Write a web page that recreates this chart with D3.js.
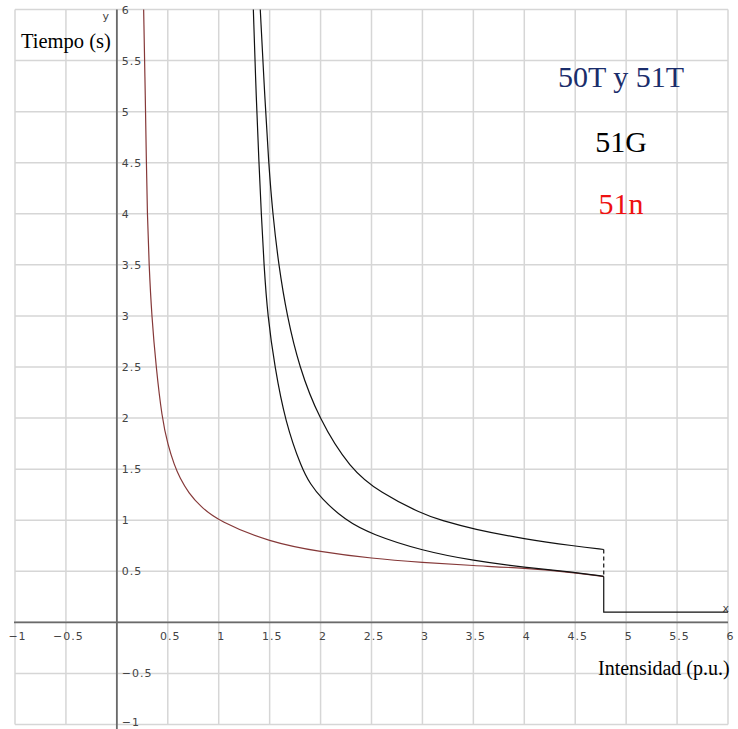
<!DOCTYPE html>
<html>
<head>
<meta charset="utf-8">
<script src="https://cdn.jsdelivr.net/npm/d3@7"></script>
<style>
html,body{margin:0;padding:0;background:#fff;}
svg{display:block;}
</style>
</head>
<body>
<svg id="chart" width="738" height="729"></svg>
<script>
// ---- data ----
const xTicks = [-1, -0.5, 0.5, 1, 1.5, 2, 2.5, 3, 3.5, 4, 4.5, 5, 5.5, 6];
const yTicks = [-1, -0.5, 0.5, 1, 1.5, 2, 2.5, 3, 3.5, 4, 4.5, 5, 5.5, 6];
const gridValues = [-1, -0.5, 0, 0.5, 1, 1.5, 2, 2.5, 3, 3.5, 4, 4.5, 5, 5.5, 6];

// 50T y 51T curve (upper)
const curveT_I = [1.408, 1.454, 1.49, 1.53, 1.588, 1.67, 1.79, 1.98, 2.29, 2.586, 3.0, 3.18, 3.5, 4.0, 4.5, 4.78];
const curveT_t = [6.0, 5.11, 4.5, 4.0, 3.5, 3.0, 2.5, 2.0, 1.5, 1.27, 1.06, 1.0, 0.912, 0.816, 0.746, 0.713];

// 51G curve (middle)
const curveG_I = [1.34, 1.369, 1.395, 1.418, 1.444, 1.48, 1.55, 1.654, 1.817, 1.9, 2.0, 2.24, 2.5, 3.0, 3.5, 4.0, 4.5, 4.78];
const curveG_t = [6.0, 5.11, 4.5, 4.0, 3.5, 3.0, 2.5, 1.96, 1.5, 1.355, 1.22, 1.0, 0.862, 0.7, 0.604, 0.538, 0.49, 0.45];

// 51n curve (red, left)
const curveN_I = [0.263, 0.28, 0.29, 0.299, 0.316, 0.342, 0.385, 0.443, 0.5, 0.564, 0.62, 0.705, 0.82, 1.0, 1.5, 2.0, 2.5, 3.0, 3.5, 4.0, 4.5, 4.78];
const curveN_t = [6.0, 5.11, 4.5, 4.0, 3.5, 3.0, 2.5, 2.0, 1.74, 1.54, 1.41, 1.266, 1.135, 0.99, 0.785, 0.69, 0.626, 0.587, 0.555, 0.532, 0.486, 0.448];

// instantaneous step
const stepI = [4.78, 6.0];
const stepT = 0.1;

const legendLabels = ["50T y 51T", "51G", "51n"];
const legendColors = ["#1a2d6b", "#000000", "#ee1111"];

// ---- drawing ----
const svg = d3.select("#chart");
const x = d3.scaleLinear().domain([-1, 6]).range([15, 728]);
const y = d3.scaleLinear().domain([-1, 6]).range([724.5, 9.5]);

// grid
const grid = svg.append("g").attr("stroke", "#d6d6d6").attr("stroke-width", 1.5);
grid.selectAll("line.v").data(gridValues).join("line")
  .attr("x1", d => x(d)).attr("x2", d => x(d))
  .attr("y1", y(6)).attr("y2", y(-1));
grid.selectAll("line.h").data(gridValues).join("line")
  .attr("x1", x(-1)).attr("x2", x(6))
  .attr("y1", d => y(d)).attr("y2", d => y(d));

// axes lines
svg.append("line").attr("x1", x(-1) - 1).attr("x2", x(6)).attr("y1", y(0)).attr("y2", y(0))
  .attr("stroke", "#6a6a6a").attr("stroke-width", 1.8);
svg.append("line").attr("x1", x(0)).attr("x2", x(0)).attr("y1", y(6)).attr("y2", 729)
  .attr("stroke", "#6a6a6a").attr("stroke-width", 1.8);

// tick labels via d3 axes
const fmt = d3.format("");
const xAxis = svg.append("g").attr("transform", `translate(0,${y(0)})`)
  .call(d3.axisBottom(x).tickValues(xTicks).tickSize(0).tickPadding(10).tickFormat(fmt));
xAxis.select(".domain").remove();
xAxis.selectAll("text").attr("dx", 2);

const yAxis = svg.append("g").attr("transform", `translate(${x(0)},0)`)
  .call(d3.axisRight(y).tickValues(yTicks).tickSize(0).tickPadding(5).tickFormat(fmt));
yAxis.select(".domain").remove();
// keep the bottom label inside the picture
yAxis.selectAll(".tick text").filter(d => d === -1).attr("dy", "0.05em");

svg.selectAll(".tick text")
  .attr("font-family", "DejaVu Sans, Verdana, sans-serif")
  .attr("font-size", 11)
  .attr("letter-spacing", 1)
  .attr("fill", "#444");

// axis letters
svg.append("text").attr("x", 729).attr("y", 612).attr("text-anchor", "end")
  .attr("font-family", "DejaVu Sans, sans-serif").attr("font-size", 11).attr("fill", "#444").text("x");
svg.append("text").attr("x", 109).attr("y", 20).attr("text-anchor", "end")
  .attr("font-family", "DejaVu Sans, sans-serif").attr("font-size", 11).attr("fill", "#444").text("y");

// axis titles
svg.append("text").attr("x", 21).attr("y", 48)
  .attr("font-family", "Liberation Serif, Times New Roman, serif").attr("font-size", 20.5)
  .attr("fill", "#000").text("Tiempo (s)");
svg.append("text").attr("x", 598).attr("y", 675)
  .attr("font-family", "Liberation Serif, Times New Roman, serif").attr("font-size", 20)
  .attr("fill", "#000").text("Intensidad (p.u.)");

// curves
const line = d3.line().x(d => x(d[0])).y(d => y(d[1])).curve(d3.curveBasis);
const zip = (a, b) => a.map((v, i) => [v, b[i]]);

svg.append("path").datum(zip(curveN_I, curveN_t)).attr("d", line)
  .attr("fill", "none").attr("stroke", "#853838").attr("stroke-width", 1.2);
svg.append("path").datum(zip(curveG_I, curveG_t)).attr("d", line)
  .attr("fill", "none").attr("stroke", "#111").attr("stroke-width", 1.2);
svg.append("path").datum(zip(curveT_I, curveT_t)).attr("d", line)
  .attr("fill", "none").attr("stroke", "#111").attr("stroke-width", 1.2);

// dashed vertical between upper and middle curve end
const lastT = curveT_t[curveT_t.length - 1];
const lastG = curveG_t[curveG_t.length - 1];
svg.append("line").attr("x1", x(stepI[0])).attr("x2", x(stepI[0]))
  .attr("y1", y(lastT)).attr("y2", y(lastG))
  .attr("stroke", "#111").attr("stroke-width", 1.2).attr("stroke-dasharray", "4,3");
// solid step down and flat instantaneous line
svg.append("path")
  .datum([[stepI[0], lastG], [stepI[0], stepT], [stepI[1], stepT]])
  .attr("d", d3.line().x(d => x(d[0])).y(d => y(d[1])))
  .attr("fill", "none").attr("stroke", "#111").attr("stroke-width", 1.2);

// legend
const legendY = [86.5, 151.5, 214];
svg.selectAll("text.legend").data(legendLabels).join("text")
  .attr("class", "legend")
  .attr("x", 621).attr("y", (d, i) => legendY[i])
  .attr("text-anchor", "middle")
  .attr("font-family", "Liberation Serif, Times New Roman, serif")
  .attr("font-size", 30)
  .attr("fill", (d, i) => legendColors[i])
  .text(d => d);
</script>
</body>
</html>
